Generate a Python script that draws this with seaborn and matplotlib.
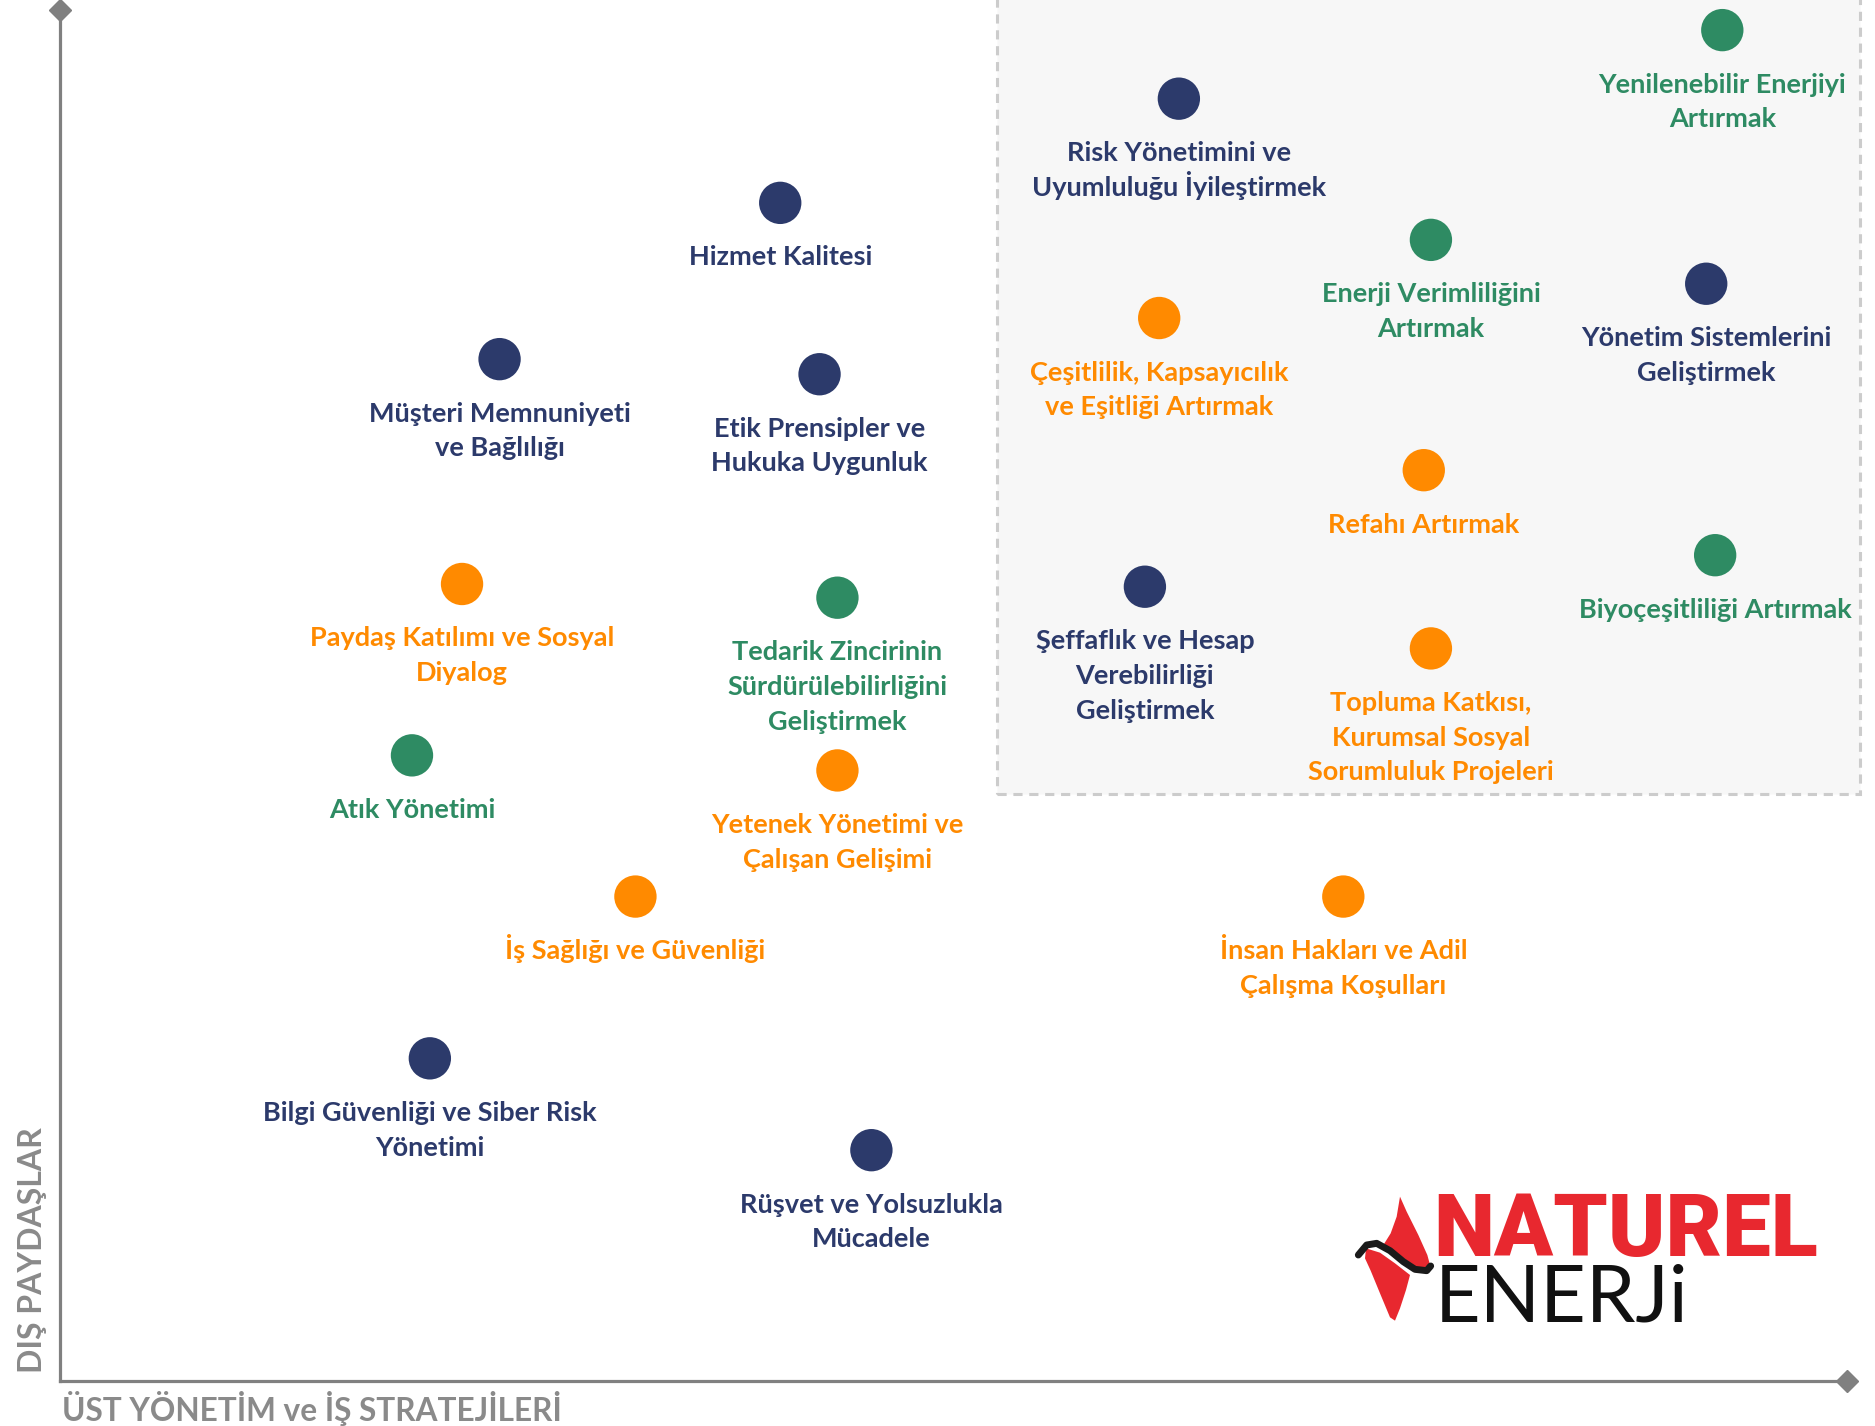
import matplotlib
matplotlib.use("Agg")
import matplotlib.pyplot as plt
from matplotlib.patches import Rectangle, Polygon
import seaborn as sns
import pandas as pd

# materiality matrix: x = senior management / business strategy, y = external stakeholders (0-100)
topics = [
    "Yenilenebilir Enerjiyi\nArtırmak",
    "Risk Yönetimini ve\nUyumluluğu İyileştirmek",
    "Hizmet Kalitesi",
    "Enerji Verimliliğini\nArtırmak",
    "Yönetim Sistemlerini\nGeliştirmek",
    "Çeşitlilik, Kapsayıcılık\nve Eşitliği Artırmak",
    "Müşteri Memnuniyeti\nve Bağlılığı",
    "Etik Prensipler ve\nHukuka Uygunluk",
    "Refahı Artırmak",
    "Biyoçeşitliliği Artırmak",
    "Paydaş Katılımı ve Sosyal\nDiyalog",
    "Şeffaflık ve Hesap\nVerebilirliği\nGeliştirmek",
    "Tedarik Zincirinin\nSürdürülebilirliğini\nGeliştirmek",
    "Topluma Katkısı,\nKurumsal Sosyal\nSorumluluk Projeleri",
    "Atık Yönetimi",
    "Yetenek Yönetimi ve\nÇalışan Gelişimi",
    "İş Sağlığı ve Güvenliği",
    "İnsan Hakları ve Adil\nÇalışma Koşulları",
    "Bilgi Güvenliği ve Siber Risk\nYönetimi",
    "Rüşvet ve Yolsuzlukla\nMücadele",
]
x_score = [93.0, 62.6, 40.3, 76.7, 92.1, 61.5, 24.6, 42.5, 76.3, 92.6,
           22.5, 60.7, 43.5, 76.7, 19.7, 43.5, 32.2, 71.8, 20.7, 45.4]
y_score = [98.5, 93.5, 85.9, 83.2, 80.0, 77.5, 74.5, 73.4, 66.4, 60.2,
           58.1, 57.9, 57.1, 53.4, 45.6, 44.5, 35.3, 35.3, 23.5, 16.8]
group = ["Çevre", "Yönetişim", "Yönetişim", "Çevre", "Yönetişim", "Sosyal",
         "Yönetişim", "Yönetişim", "Sosyal", "Çevre", "Sosyal", "Yönetişim",
         "Çevre", "Sosyal", "Çevre", "Sosyal", "Sosyal", "Sosyal",
         "Yönetişim", "Yönetişim"]

colors = {"Yönetişim": "#2c3a6b", "Çevre": "#2e8b63", "Sosyal": "#ff8a00"}

df = pd.DataFrame({"topic": topics, "x": x_score, "y": y_score, "group": group})

sns.set_style("white")
plt.rcParams["font.family"] = ["Lato", "DejaVu Sans"]

fig = plt.figure(figsize=(18.75, 14.26), dpi=100)
ax = fig.add_axes([0.0319, 0.0319, 0.9534, 0.9614])
ax.set_xlim(0, 100)
ax.set_ylim(0, 100)

# priority zone
ax.add_patch(Rectangle((52.4, 42.75), 48.3, 60, facecolor="#f7f7f7",
                       edgecolor="#cccccc", linestyle=(0, (3, 2.2)),
                       linewidth=2.2, clip_on=False, zorder=0))

sns.scatterplot(data=df, x="x", y="y", hue="group", palette=colors, s=930,
                edgecolor="none", legend=False, ax=ax, zorder=3, clip_on=False)

# labels: one text per line so every line sits on its own baseline
for _, r in df.iterrows():
    for i, line in enumerate(r["topic"].split("\n")):
        ax.annotate(line, (r["x"], r["y"]), xytext=(0, -45 - 25 * i),
                    textcoords="offset points", ha="center", va="baseline",
                    fontsize=19.5, fontweight="bold",
                    color=colors[r["group"]], zorder=4, annotation_clip=False)

# axes with diamond ends
for side in ["top", "right"]:
    ax.spines[side].set_visible(False)
for side in ["left", "bottom"]:
    ax.spines[side].set_color("#808080")
    ax.spines[side].set_linewidth(2.3)
ax.plot([0], [100], marker="D", ms=11, color="#808080", clip_on=False, zorder=5)
ax.plot([100], [0], marker="D", ms=11, color="#808080", clip_on=False, zorder=5)
ax.set_xticks([])
ax.set_yticks([])
ax.set_xlabel("")
ax.set_ylabel("")

fig.text(62 / 1875, 1 - 1409 / 1426, "ÜST YÖNETİM ve İŞ STRATEJİLERİ", ha="left",
         va="center", fontsize=22.8, fontweight="bold", color="#8a8a8a")
fig.text(33 / 1875, 1 - 1373 / 1426, "DIŞ PAYDAŞLAR", rotation=90, ha="center",
         va="bottom", fontsize=23, fontweight="bold", color="#8a8a8a")

# logo
fig.text(1433 / 1875, 1 - 1256 / 1426, "NATUREL", ha="left", va="baseline",
         fontsize=62.5, fontweight="heavy", color="#e8282f",
         family=["Roboto", "DejaVu Sans"])
fig.text(1435 / 1875, 1 - 1322 / 1426, "ENERJi", ha="left", va="baseline",
         fontsize=57, fontweight="normal", color="#111111",
         family=["Lato", "DejaVu Sans"])

lax = fig.add_axes([1340 / 1875, 1 - 1340 / 1426, 120 / 1875, 160 / 1426])
lax.set_xlim(0, 360)
lax.set_ylim(480, 0)
lax.axis("off")
lax.add_patch(Polygon([(180, 50), (200, 95), (235, 165), (262, 225), (272, 262),
                       (245, 272), (205, 245), (160, 212), (132, 192),
                       (152, 160), (170, 110)], color="#e8282f", lw=0))
lax.add_patch(Polygon([(78, 205), (120, 218), (165, 250), (210, 285), (198, 330),
                       (180, 385), (165, 422), (150, 412), (120, 340),
                       (92, 272), (75, 235)], color="#e8282f", lw=0))
lax.plot([55, 80, 110, 150, 190, 225, 260, 272], [225, 195, 190, 212, 245, 268, 272, 258],
         color="#1a1a1a", lw=5, solid_capstyle="round")

fig.savefig("out.png", dpi=100)
